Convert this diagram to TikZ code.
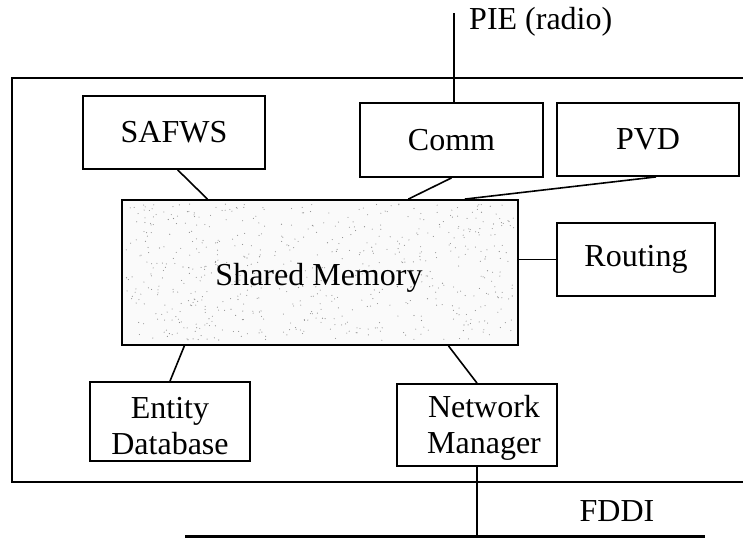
\documentclass[tikz,border=0pt]{standalone}
\usepackage{fontspec}
\setmainfont{Liberation Serif}
\usetikzlibrary{calc}

\begin{document}
\begin{tikzpicture}[x=1pt,y=-1pt,
  every node/.style={font=\fontsize{32}{36}\selectfont},
  unit/.style={draw,line width=1.8pt,inner sep=0pt,align=center,fill=white},
  link/.style={line width=1.6pt},
  sharedmem/.style={unit,fill=black!2},
  speck/.style={fill=black!45},
  label/.style={inner sep=0pt,align=center}]
  \useasboundingbox (0,0) rectangle (743,538);

  % enclosing host frame (open on the right)
  \coordinate (frTR) at (743,78);
  \coordinate (frTL) at (12,78);
  \coordinate (frBL) at (12,482);
  \coordinate (frBR) at (743,482);
  \draw[line width=1.8pt] (frTR) -- (frTL) -- (frBL) -- (frBR);

  % software units
  \node[unit,minimum width=182pt,minimum height=73pt] (safws) at (174,132.5) {SAFWS};
  \node[unit,minimum width=183pt,minimum height=74pt] (comm) at (451.5,140) {Comm};
  \node[unit,minimum width=182pt,minimum height=73pt] (pvd) at (648,139.5) {PVD};
  \node[sharedmem,minimum width=396pt,minimum height=145pt] (sm) at (320,272.5) {};
  % stippled texture of the shared memory block
  \pgfmathsetseed{4242}
  \foreach \k in {1,...,650}{
    \pgfmathsetmacro{\sx}{126+388*rnd}
    \pgfmathsetmacro{\sy}{204+137*rnd}
    \fill[speck] (\sx,\sy) circle[radius=0.55pt];
  }
  \node[label] (smtext) at (319,278) {Shared Memory};
  \node[unit,minimum width=158pt,minimum height=73pt] (routing) at (636,259.5) {Routing};
  \node[unit,minimum width=160pt,minimum height=79pt] (entity) at (170,421.5) {};
  \node[label] (entitytext) at (170,426) {Entity\\Database};
  \node[unit,minimum width=160pt,minimum height=82pt] (nm) at (477,425) {};
  \node[label] (nmtext) at (484,428) {Network\\Manager};

  % links to shared memory
  \draw[link] ($(safws.south west)!0.52!(safws.south east)$) -- ($(sm.north west)!0.217!(sm.north east)$);
  \draw[link] (comm.south) -- ($(sm.north west)!0.722!(sm.north east)$);
  \draw[link] ($(pvd.south west)!0.544!(pvd.south east)$) -- ($(sm.north west)!0.864!(sm.north east)$);
  \draw[link] (routing.west) -- (routing.west -| sm.east);
  \draw[link] ($(sm.south west)!0.159!(sm.south east)$) -- (entity.north);
  \draw[link] ($(sm.south west)!0.823!(sm.south east)$) -- (nm.north);

  % radio link
  \coordinate (pietop) at (454,13);
  \draw[line width=1.3pt] (pietop) -- (pietop |- comm.north);
  \node[label,anchor=west] (pie) at (469,22) {PIE (radio)};

  % FDDI bus
  \coordinate (fddiL) at (185,536.5);
  \coordinate (fddiR) at (705,536.5);
  \draw[line width=2.2pt] (fddiL) -- (fddiR);
  \draw[line width=1.3pt] (nm.south) -- (nm.south |- fddiL);
  \node[label] (fddi) at (617,511) {FDDI};
\end{tikzpicture}
\end{document}
